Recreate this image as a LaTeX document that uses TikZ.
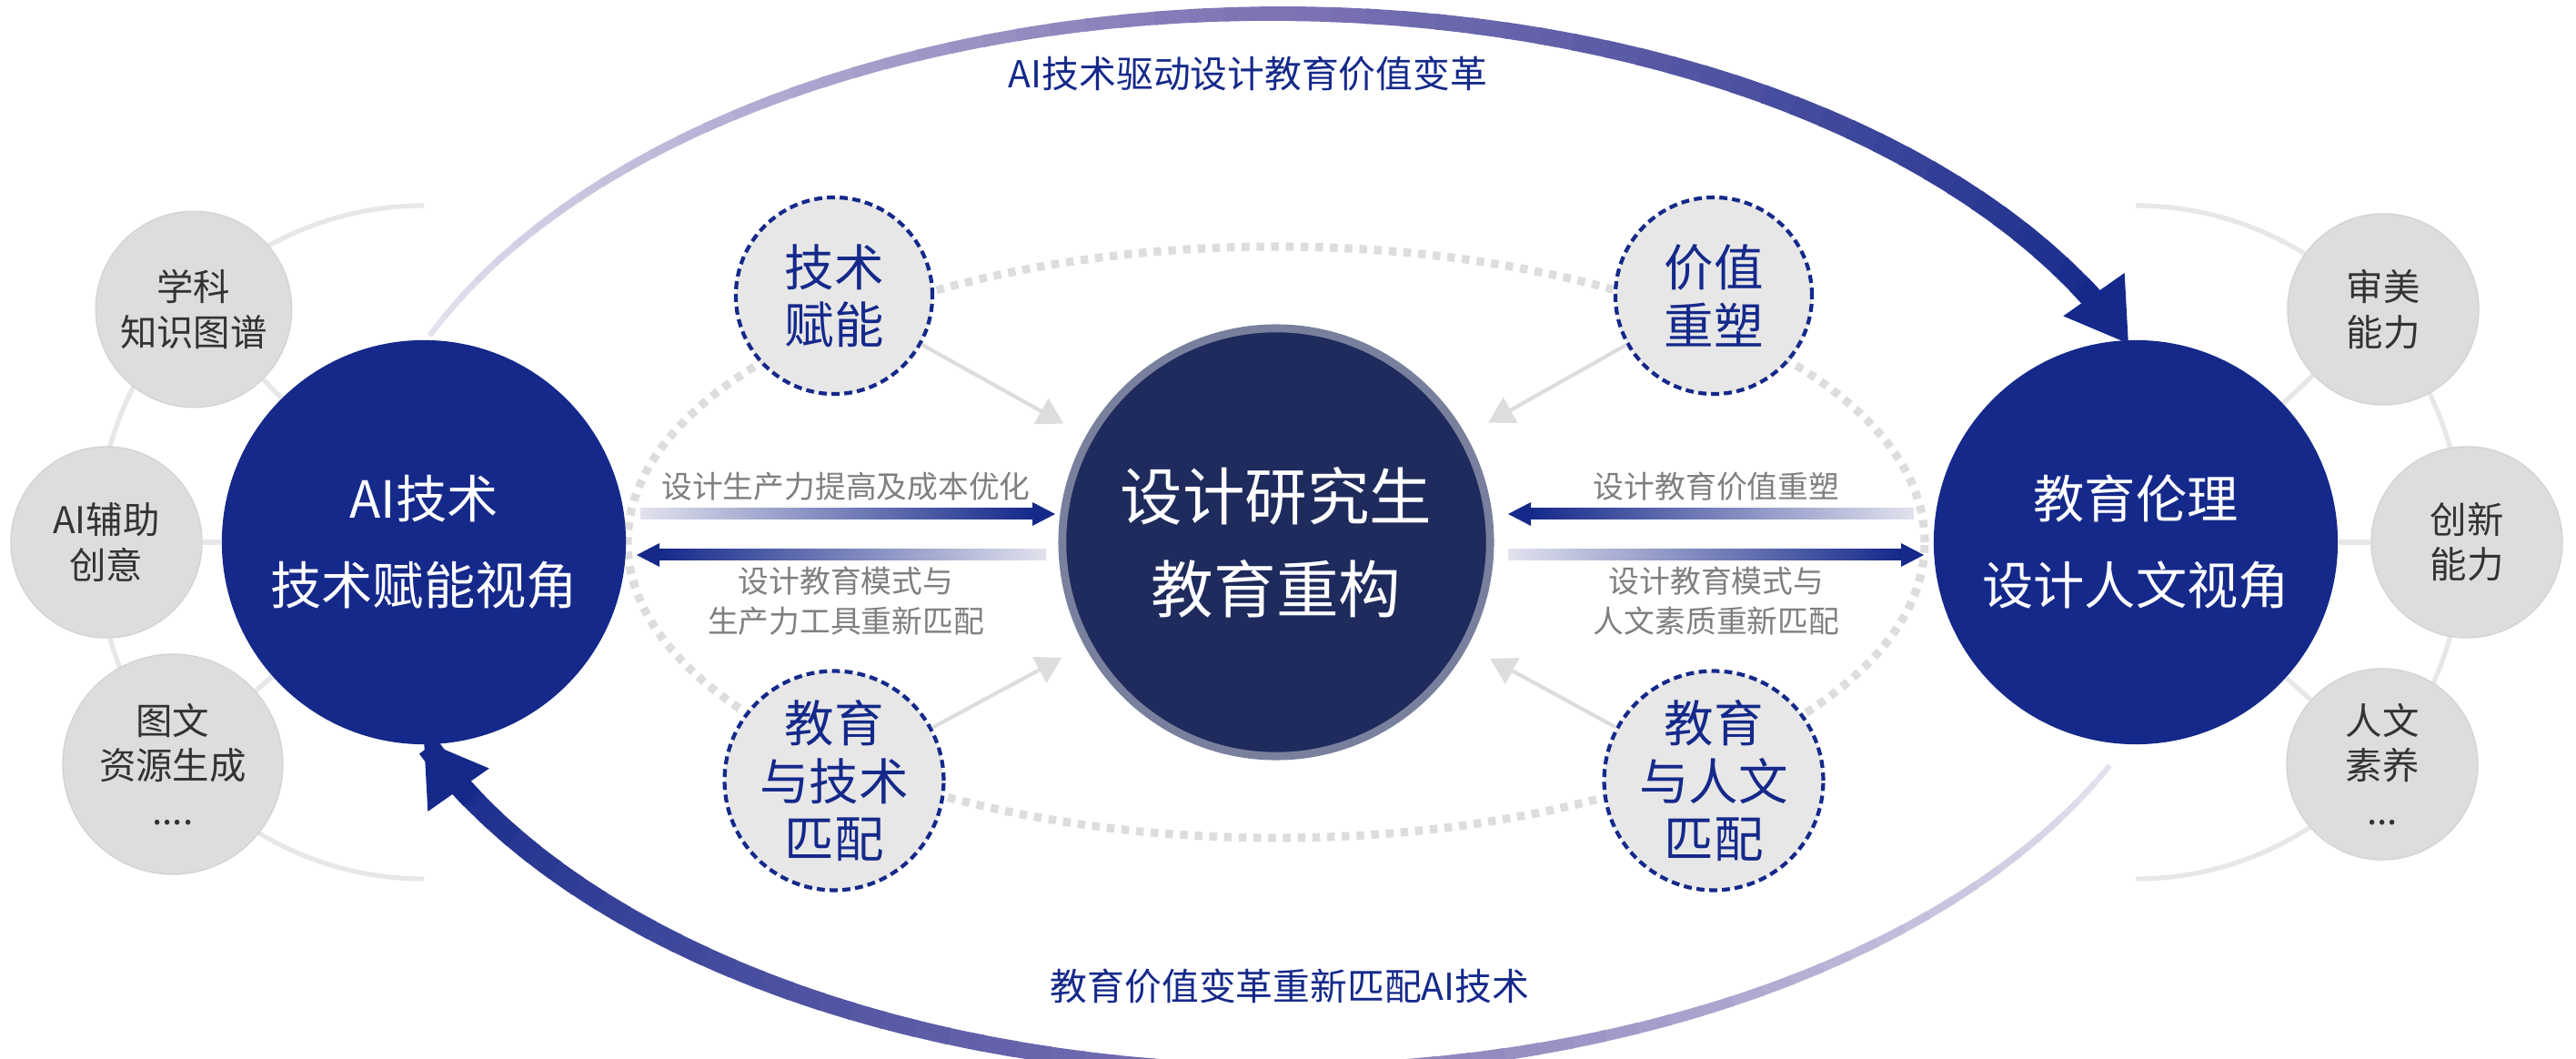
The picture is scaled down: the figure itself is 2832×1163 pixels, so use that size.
\documentclass[tikz,border=0pt]{standalone}
\usepackage{fontspec}
\setmainfont{Noto Sans CJK SC}
\usetikzlibrary{positioning}
\usetikzlibrary{arrows.meta}
\definecolor{navy}{HTML}{15298A}
\definecolor{deepnavy}{HTML}{1E2B5C}
\definecolor{lavl}{HTML}{E2E2EE}
\definecolor{midpurple}{HTML}{7D74B4}
\definecolor{softgray}{HTML}{DDDDDD}
\definecolor{labelgray}{HTML}{7F7F7F}

\begin{document}
\begin{tikzpicture}
		[x=0.01cm, y=0.01cm,
		bigc/.style={circle, fill=navy, text=white, minimum size=4.44cm, align=center, font=\fontsize{16}{27}\selectfont},
		smallc/.style={circle, fill=softgray!70, draw=navy, dashed, line width=1.2pt, dash pattern=on 2.5pt off 1.5pt, text=navy, inner sep=0pt, minimum size=2.16cm, align=center, font=\fontsize{15.5}{18}\selectfont},
		grayc/.style={circle, fill=softgray, draw=softgray!80!black!20!softgray, text=black!80, minimum size=2.1cm, align=center, font=\fontsize{11.5}{14}\selectfont},
		lbl/.style={text=labelgray, align=center, font=\fontsize{9.6}{12.5}\selectfont},
		grayarrow/.style={draw=softgray, line width=1.2pt, -{Triangle[width=9pt,length=8pt]}, shorten >=8pt},
		spoke/.style={draw=softgray!70, line width=1.5pt}]
		\useasboundingbox (0,0) rectangle (2832,1163);

		% background rings
		\draw[softgray, line width=2.6pt, dash pattern=on 2.4pt off 2.2pt] (1403,567) ellipse [x radius=713, y radius=325];
		\draw[spoke] (466,937) arc[start angle=90, end angle=270, x radius=360, y radius=370];
		\draw[spoke] (2348,937) arc[start angle=90, end angle=-90, x radius=360, y radius=370];

		% big arcs
		\foreach \i in {0,...,59}{
			\pgfmathsetmacro\a{157-\i*2.2}
			\pgfmathsetmacro\b{\a-2.4}
			\pgfmathsetmacro\w{1.8+\i*0.09}
			\ifnum\i<30
				\pgfmathtruncatemacro\p{\i*100/29}
				\colorlet{arccol}{midpurple!\p!lavl}
			\else
				\pgfmathtruncatemacro\p{(\i-30)*100/29}
				\colorlet{arccol}{navy!\p!midpurple}
			\fi
			\draw[line width=\w pt, arccol] ({1403+1011*cos(\a)},{567+581*sin(\a)}) arc[start angle=\a, end angle=\b, x radius=1011, y radius=581];
			\pgfmathsetmacro\c{-25-\i*2.2}
			\pgfmathsetmacro\d{\c-2.4}
			\draw[line width=\w pt, arccol] ({1403+1011*cos(\c)},{567+581*sin(\c)}) arc[start angle=\c, end angle=\d, x radius=1011, y radius=581];
		}
		\draw[navy, line width=7pt, -{Triangle[width=22pt,length=19pt]}] ({1403+1011*cos(29)},{567+581*sin(29)}) arc[start angle=29, end angle=22, x radius=1011, y radius=581];
		\draw[navy, line width=7pt, -{Triangle[width=22pt,length=19pt]}] ({1403+1011*cos(-151)},{567+581*sin(-151)}) arc[start angle=-151, end angle=-158, x radius=1011, y radius=581];
		\node[text=navy, font=\fontsize{11.6}{14}\selectfont] (toplbl) at (1372,1082) {AI技术驱动设计教育价值变革};
		\node[text=navy, font=\fontsize{11.6}{14}\selectfont] (botlbl) at (1418,79) {教育价值变革重新匹配AI技术};

		% side circles
		\node[grayc] (g1) at (213,823) {学科\\知识图谱};
		\node[grayc] (g2) at (117,567) {AI辅助\\创意};
		\node[grayc] (g3) at (190,323) {图文\\资源生成\\....};
		\node[grayc] (h1) at (2620,823) {审美\\能力};
		\node[grayc] (h2) at (2712,567) {创新\\能力};
		\node[grayc] (h3) at (2619,323) {人文\\素养\\...};

		% main circles
		\node[bigc] (ai) at (466,567) {AI技术\\技术赋能视角};
		\node[bigc] (hu) at (2348,567) {教育伦理\\设计人文视角};
		\node[circle, fill=deepnavy, draw=deepnavy!60!white, line width=2.5pt, text=white, minimum size=4.7cm, align=center, font=\fontsize{19.5}{29}\selectfont] (c) at (1403,567) {设计研究生\\教育重构};

		\foreach \s in {g1,g2,g3}{\draw[spoke] (ai) -- (\s);}
		\foreach \s in {h1,h2,h3}{\draw[spoke] (hu) -- (\s);}

		\node[smallc] (tf) at (917,838) {技术\\赋能};
		\node[smallc] (jz) at (1884,838) {价值\\重塑};
		\node[smallc] (jj) at (917,305) {教育\\与技术\\匹配};
		\node[smallc] (jr) at (1884,305) {教育\\与人文\\匹配};

		\foreach \s in {tf,jz,jj,jr}{\draw[grayarrow] (\s) -- (c);}

		% horizontal arrows
		\shade[left color=lavl, right color=navy] (704,592) rectangle (1135,604);
		\fill[navy] (1135,585) -- (1160,598) -- (1135,611) -- cycle;
		\shade[left color=navy, right color=lavl] (725,547) rectangle (1150,559);
		\fill[navy] (725,540) -- (700,553) -- (725,566) -- cycle;
		\shade[left color=navy, right color=lavl] (1683,592) rectangle (2104,604);
		\fill[navy] (1683,585) -- (1658,598) -- (1683,611) -- cycle;
		\shade[left color=lavl, right color=navy] (1658,547) rectangle (2090,559);
		\fill[navy] (2090,540) -- (2115,553) -- (2090,566) -- cycle;

		\node[lbl] (l1) at (930,628) {设计生产力提高及成本优化};
		\node[lbl] (l2) at (930,502) {设计教育模式与\\生产力工具重新匹配};
		\node[lbl] (r1) at (1887,628) {设计教育价值重塑};
		\node[lbl] (r2) at (1887,502) {设计教育模式与\\人文素质重新匹配};
	\end{tikzpicture}
\end{document}
